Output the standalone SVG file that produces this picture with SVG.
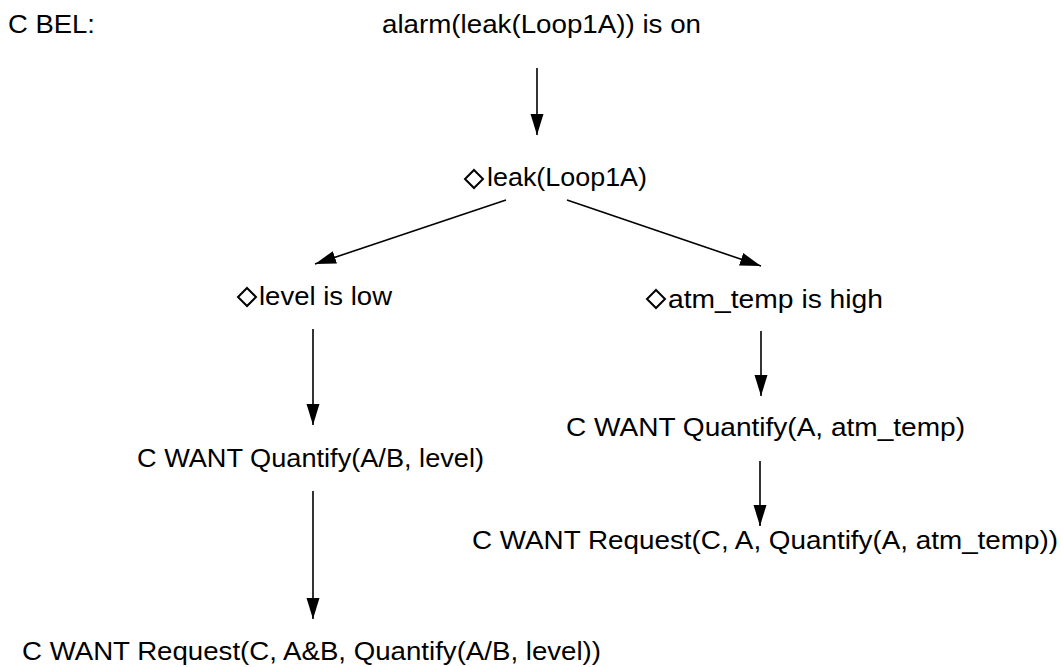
<svg xmlns="http://www.w3.org/2000/svg" width="1061" height="667" viewBox="0 0 1061 667">
  <style>
    .lbl { font-family: "Liberation Sans", Arial, sans-serif; font-size: 25px; fill: #000; }
    .edge { stroke: #000; stroke-width: 1.6; fill: none; marker-end: url(#head); }
    .dia { fill: none; stroke: #000; stroke-width: 2; stroke-linejoin: miter; }
  </style>
  <defs>
    <marker id="head" markerUnits="userSpaceOnUse" markerWidth="22" markerHeight="14" refX="21" refY="7" orient="auto">
      <path d="M0,0.5 L21,7 L0,13.5 z" fill="#000"/>
    </marker>
  </defs>

  <rect width="1061" height="667" fill="#fff"/>

  <!-- heading -->
  <g id="title">
    <text class="lbl" x="8" y="33" textLength="87" lengthAdjust="spacingAndGlyphs">C BEL:</text>
  </g>

  <!-- belief nodes -->
  <g id="n-alarm">
    <text class="lbl" x="382" y="33" textLength="319" lengthAdjust="spacingAndGlyphs">alarm(leak(Loop1A)) is on</text>
  </g>
  <g id="n-leak">
    <path class="dia" d="M474,170 L483,179 L474,188 L465,179 z"/>
    <text class="lbl" x="487" y="186" textLength="160" lengthAdjust="spacingAndGlyphs">leak(Loop1A)</text>
  </g>
  <g id="n-level">
    <path class="dia" d="M247,288 L256,297 L247,306 L238,297 z"/>
    <text class="lbl" x="259" y="305" textLength="133" lengthAdjust="spacingAndGlyphs">level is low</text>
  </g>
  <g id="n-atm">
    <path class="dia" d="M656,290 L665,299 L656,308 L647,299 z"/>
    <text class="lbl" x="668" y="308" textLength="215" lengthAdjust="spacingAndGlyphs">atm_temp is high</text>
  </g>
  <g id="n-quant-level">
    <text class="lbl" x="137" y="467" textLength="347" lengthAdjust="spacingAndGlyphs">C WANT Quantify(A/B, level)</text>
  </g>
  <g id="n-quant-atm">
    <text class="lbl" x="566" y="436" textLength="399" lengthAdjust="spacingAndGlyphs">C WANT Quantify(A, atm_temp)</text>
  </g>
  <g id="n-req-atm">
    <text class="lbl" x="472" y="549" textLength="586" lengthAdjust="spacingAndGlyphs">C WANT Request(C, A, Quantify(A, atm_temp))</text>
  </g>
  <g id="n-req-level">
    <text class="lbl" x="22" y="660" textLength="579" lengthAdjust="spacingAndGlyphs">C WANT Request(C, A&amp;B, Quantify(A/B, level))</text>
  </g>

  <!-- connectors -->
  <g id="edges">
    <line class="edge" x1="537" y1="68" x2="537" y2="135"/>
    <line class="edge" x1="506" y1="200" x2="315" y2="264"/>
    <line class="edge" x1="567" y1="200" x2="761" y2="266"/>
    <line class="edge" x1="313" y1="329" x2="313" y2="425"/>
    <line class="edge" x1="761" y1="331" x2="761" y2="396"/>
    <line class="edge" x1="313" y1="491" x2="313" y2="619"/>
    <line class="edge" x1="760" y1="461" x2="760" y2="526"/>
  </g>
</svg>
